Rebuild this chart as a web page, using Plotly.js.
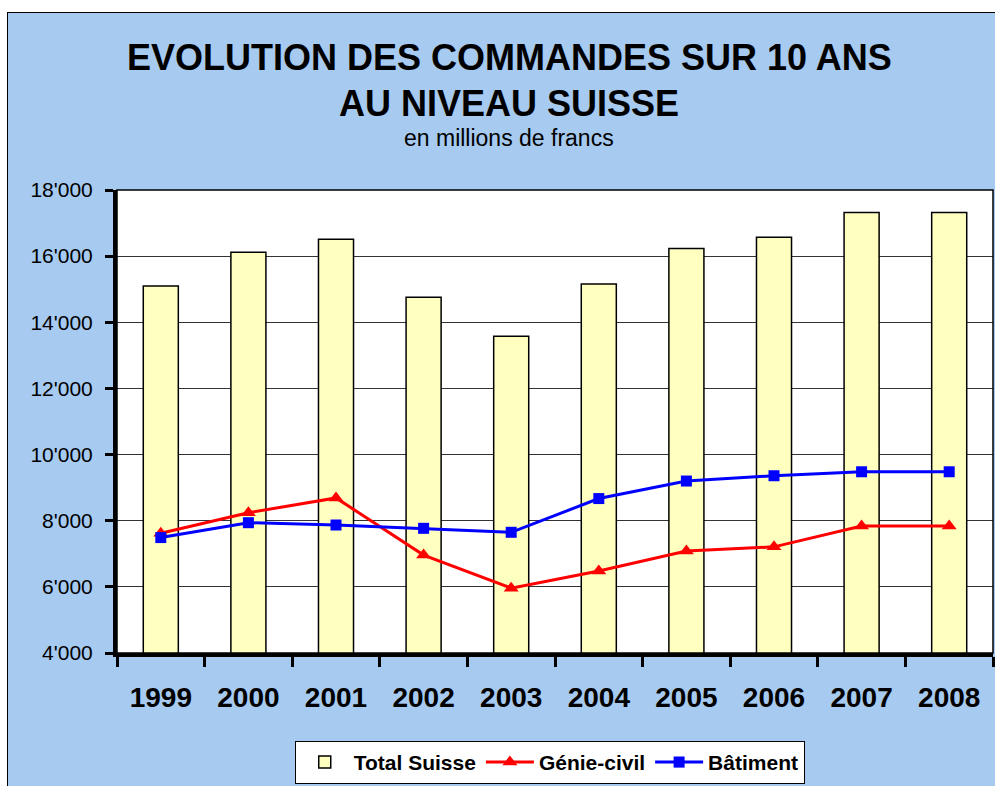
<!DOCTYPE html>
<html>
<head>
<meta charset="utf-8">
<script src="https://cdn.plot.ly/plotly-3.0.1.min.js"></script>
<style>
  body { margin: 0; background: #fff; }
  #frame { position: absolute; left: 7px; top: 12px; border-left: 1px solid #000; border-top: 1px solid #000; }
  #chart { width: 987px; height: 773px; }
</style>
</head>
<body>
<div id="frame"><div id="chart"></div></div>
<script>
var years = ['1999', '2000', '2001', '2002', '2003', '2004', '2005', '2006', '2007', '2008'];

var totalSuisse = [15100, 16120, 16510, 14760, 13580, 15155, 16230, 16570, 17320, 17320];
var genieCivil  = [7620, 8240, 8690, 6960, 5960, 6480, 7085, 7210, 7840, 7840];
var batiment    = [7490, 7940, 7870, 7770, 7650, 8670, 9200, 9360, 9480, 9480];

var font = 'Liberation Sans, Arial, sans-serif';

var trace1 = {
  type: 'bar',
  x: years,
  y: totalSuisse,
  name: 'Total Suisse',
  marker: {
    color: '#FFFFC0',
    line: { color: '#000', width: 1.5 }
  }
};

var trace2 = {
  type: 'scatter',
  x: years,
  y: genieCivil,
  mode: 'lines+markers',
  name: 'Génie-civil',
  line: { color: '#FF0000', width: 3 },
  marker: { color: '#FF0000', symbol: 'triangle-up', size: 13 }
};

var trace3 = {
  type: 'scatter',
  x: years,
  y: batiment,
  mode: 'lines+markers',
  name: 'Bâtiment',
  line: { color: '#0000FF', width: 3 },
  marker: { color: '#0000FF', symbol: 'square', size: 11 }
};

var data = [trace1, trace2, trace3];

var layout = {
  width: 987,
  height: 773,
  margin: { l: 109, r: 2, t: 177, b: 131 },
  paper_bgcolor: '#A6CAF0',
  plot_bgcolor: '#FFFFFF',
  separators: ".'",
  bargap: 0.6,
  showlegend: true,
  font: { family: font, color: '#000' },
  xaxis: {
    type: 'category',
    range: [-0.5, 9.5],
    tickson: 'boundaries',
    ticks: 'outside',
    ticklen: 10,
    tickwidth: 3,
    tickcolor: '#000',
    showline: true,
    linewidth: 4,
    linecolor: '#000',
    showgrid: false,
    ticklabelstandoff: 16,
    tickfont: { family: font, size: 28, weight: 'bold', color: '#000' }
  },
  yaxis: {
    range: [4000, 18000],
    dtick: 2000,
    tickformat: ',d',
    ticks: 'outside',
    ticklen: 8,
    tickwidth: 3,
    tickcolor: '#000',
    showline: true,
    linewidth: 4,
    linecolor: '#000',
    showgrid: true,
    gridcolor: '#333',
    gridwidth: 1,
    zeroline: false,
    ticklabelstandoff: 8,
    tickfont: { family: font, size: 21, color: '#000' }
  },
  legend: {
    orientation: 'h',
    x: 0.494,
    xanchor: 'center',
    y: -0.19,
    yanchor: 'top',
    itemwidth: 48,
    bgcolor: '#FFFFFF',
    bordercolor: '#000',
    borderwidth: 1,
    font: { family: font, size: 21, weight: 'bold', color: '#000' }
  },
  shapes: [{
    type: 'rect', xref: 'paper', yref: 'paper',
    x0: 0, x1: 1, y0: 0, y1: 1,
    line: { color: '#000', width: 1.5 }
  }],
  annotations: [
    { text: 'EVOLUTION DES COMMANDES SUR 10 ANS', xref: 'paper', yref: 'paper', x: 0.4475, y: 1.286,
      yanchor: 'middle', showarrow: false, font: { family: font, size: 36, weight: 'bold', color: '#000' } },
    { text: 'AU NIVEAU SUISSE', xref: 'paper', yref: 'paper', x: 0.4475, y: 1.187,
      yanchor: 'middle', showarrow: false, font: { family: font, size: 36, weight: 'bold', color: '#000' } },
    { text: 'en millions de francs', xref: 'paper', yref: 'paper', x: 0.4475, y: 1.112,
      yanchor: 'middle', showarrow: false, font: { family: font, size: 23, color: '#000' } }
  ]
};

Plotly.newPlot('chart', data, layout, { displayModeBar: false });
</script>
</body>
</html>
